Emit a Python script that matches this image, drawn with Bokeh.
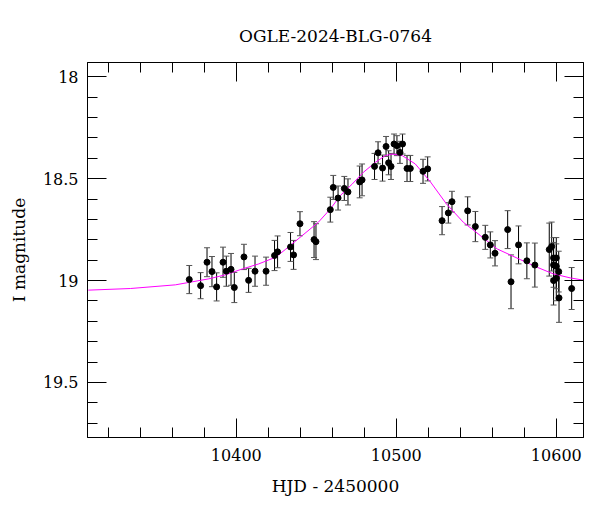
from bokeh.plotting import figure
from bokeh.models import (ColumnDataSource, Range1d, LinearAxis, SingleIntervalTicker,
                          CustomJSTickFormatter, Whisker, TeeHead, Title)
from bokeh.embed import file_html
from bokeh.resources import INLINE

# Observations (HJD - 2450000, I magnitude, error)
hjd = [10370.6, 10377.7, 10381.7, 10384.8, 10387.7, 10391.7, 10393.75, 10396.7, 10398.75,
       10404.8, 10407.7, 10411.7, 10418.6, 10423.9, 10425.8, 10433.9, 10435.8, 10439.8,
       10448.6, 10449.8, 10458.75, 10460.6, 10463.6, 10467.5, 10469.8, 10477.1, 10478.6,
       10486.4, 10488.6, 10491.4, 10493.6, 10495.2, 10496.7, 10498.6, 10500.4, 10502.3,
       10503.9, 10506.7, 10508.75, 10516.7, 10519.6, 10528.6, 10532.5, 10534.8, 10544.6,
       10549.4, 10555.6, 10558.75, 10561.7, 10569.6, 10571.7, 10576.4, 10581.6, 10586.6,
       10595.6, 10597.1, 10598.3, 10600.0, 10598.3, 10600.0, 10601.5, 10600.0, 10598.3,
       10601.7, 10609.6]
mag = [18.995, 19.025, 18.910, 18.956, 19.031, 18.910, 18.954, 18.945, 19.034,
       18.884, 18.999, 18.954, 18.954, 18.877, 18.859, 18.835, 18.874, 18.721,
       18.799, 18.809, 18.652, 18.543, 18.595, 18.548, 18.565, 18.516, 18.506,
       18.440, 18.373, 18.448, 18.342, 18.422, 18.440, 18.330, 18.338, 18.371,
       18.330, 18.450, 18.450, 18.464, 18.452, 18.706, 18.668, 18.613, 18.658,
       18.735, 18.788, 18.825, 18.866, 18.750, 19.006, 18.825, 18.903, 18.924,
       18.848, 18.833, 18.889, 18.889, 18.923, 18.930, 18.956, 18.989, 19.000,
       19.085, 19.039]
err = [0.069, 0.064, 0.071, 0.074, 0.069, 0.074, 0.074, 0.078, 0.074,
       0.062, 0.059, 0.074, 0.069, 0.074, 0.078, 0.071, 0.071, 0.059,
       0.088, 0.088, 0.061, 0.059, 0.059, 0.059, 0.064, 0.078, 0.078,
       0.064, 0.054, 0.064, 0.049, 0.059, 0.064, 0.049, 0.049, 0.054,
       0.049, 0.064, 0.064, 0.059, 0.059, 0.069, 0.050, 0.051, 0.069,
       0.074, 0.059, 0.064, 0.062, 0.093, 0.132, 0.093, 0.088, 0.108,
       0.130, 0.120, 0.100, 0.100, 0.110, 0.110, 0.100, 0.110, 0.120,
       0.120, 0.103]

# Model curve
model_hjd = [10307.5, 10333.75, 10361.9, 10382.5, 10393.1, 10403.75, 10413.75, 10424.4,
             10430.6, 10441.25, 10451.25, 10458.75, 10465.0, 10472.5, 10479.4, 10486.9,
             10493.1, 10497.5, 10503.75, 10511.9, 10521.25, 10531.25, 10541.9, 10552.5,
             10563.1, 10577.5, 10588.1, 10598.1, 10608.75, 10616.9]
model_mag = [19.047, 19.039, 19.021, 18.992, 18.972, 18.943, 18.919, 18.886,
             18.848, 18.779, 18.714, 18.649, 18.583, 18.526, 18.469, 18.420,
             18.387, 18.379, 18.387, 18.428, 18.515, 18.623, 18.714, 18.779,
             18.845, 18.897, 18.935, 18.967, 18.987, 18.998]

FONT = "DejaVu Serif"

src = ColumnDataSource(dict(x=hjd, y=mag,
                            lo=[m - e for m, e in zip(mag, err)],
                            hi=[m + e for m, e in zip(mag, err)]))

p = figure(width=600, height=512, output_backend="svg", toolbar_location=None,
           x_range=Range1d(10307, 10617), y_range=Range1d(19.77, 17.93),
           min_border_left=87, min_border_right=17, min_border_top=62,
           min_border_bottom=75, x_axis_location=None, y_axis_location=None)
p.grid.visible = False
p.outline_line_color = "black"
p.background_fill_color = "white"
p.border_fill_color = "white"

xt = SingleIntervalTicker(interval=100, num_minor_ticks=5)
yt = SingleIntervalTicker(interval=0.5, num_minor_ticks=5)
fmt = CustomJSTickFormatter(code="return tick.toString();")
blank = CustomJSTickFormatter(code="return '';")

def style(ax, labels):
    ax.major_tick_in = 19
    ax.major_tick_out = 0
    ax.minor_tick_in = 10
    ax.minor_tick_out = 0
    ax.axis_line_color = "black"
    ax.major_tick_line_color = "black"
    ax.minor_tick_line_color = "black"
    ax.major_label_text_font = FONT
    ax.axis_label_text_font = FONT
    ax.axis_label_text_font_style = "normal"
    ax.axis_label_text_font_size = "17px"
    ax.major_label_text_font_size = "16px"
    ax.major_label_text_color = "black"
    ax.axis_label_text_color = "black"
    if not labels:
        ax.major_label_standoff = 0

bx = LinearAxis(ticker=xt, formatter=fmt, axis_label="HJD - 2450000")
style(bx, True)
bx.major_label_standoff = 11
bx.axis_label_standoff = 12
p.add_layout(bx, "below")

ly = LinearAxis(ticker=yt, formatter=fmt, axis_label="I magnitude")
style(ly, True)
ly.major_label_standoff = 9
ly.axis_label_standoff = 11
p.add_layout(ly, "left")

tx = LinearAxis(ticker=xt, formatter=blank)
style(tx, False)
p.add_layout(tx, "above")

ry = LinearAxis(ticker=yt, formatter=blank)
style(ry, False)
p.add_layout(ry, "right")

p.title = Title(text="OGLE-2024-BLG-0764", text_font=FONT, text_font_size="17px",
                text_font_style="normal", align="center", text_color="black",
                standoff=33)

p.line(model_hjd, model_mag, line_color="#ff00ff", line_width=1)

p.add_layout(Whisker(source=src, base="x", lower="lo", upper="hi", dimension="height",
                     line_color="black", line_width=1,
                     upper_head=TeeHead(size=6, line_color="#555555", line_width=1),
                     lower_head=TeeHead(size=6, line_color="#555555", line_width=1)))
p.scatter("x", "y", source=src, size=6, fill_color="black", line_color="black")

open("out.html", "w").write(file_html(p, INLINE))
